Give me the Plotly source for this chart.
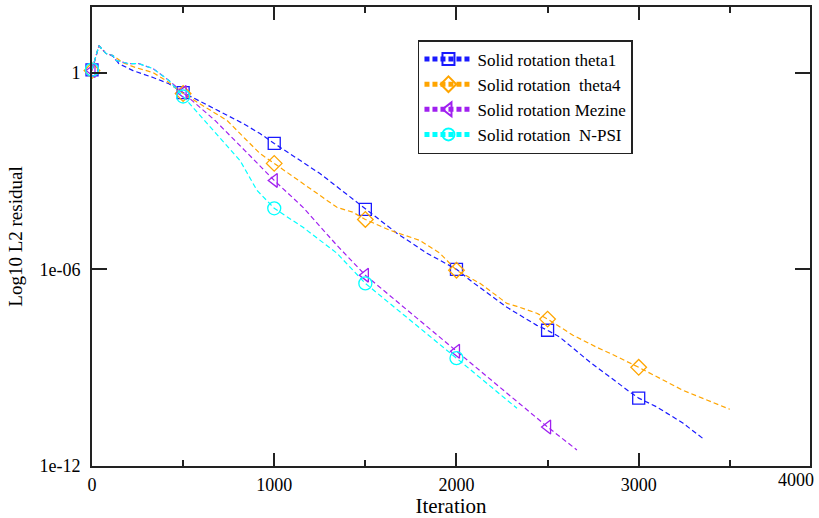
import plotly.graph_objects as go

# ---- data (iteration, log10 of L2 residual) ----
series_names = ["Solid rotation theta1", "Solid rotation  theta4",
                "Solid rotation Mezine", "Solid rotation  N-PSI"]

theta1_iter = [0, 38, 77, 115, 148, 225, 335, 422, 500, 664, 828, 922, 1000, 1251, 1500,
               1673, 1838, 2000, 2090, 2277, 2441, 2500, 2567, 2732, 2951, 3000, 3100, 3242, 3357]
theta1_log = [0.08, 0.82, 0.58, 0.50, 0.27, 0.06, -0.15, -0.34, -0.61, -1.07, -1.55, -1.86, -2.16,
              -3.08, -4.17, -4.90, -5.51, -6.00, -6.40, -7.16, -7.71, -7.86, -8.07, -8.83, -9.74,
              -9.93, -10.20, -10.69, -11.18]
theta1_mark_iter = [0, 500, 1000, 1500, 2000, 2500, 3000]
theta1_mark_log = [0.08, -0.61, -2.16, -4.17, -6.00, -7.86, -9.93]

theta4_iter = [0, 38, 77, 115, 170, 241, 335, 422, 500, 620, 741, 839, 922, 1000, 1158, 1344, 1432,
               1500, 1635, 1799, 1909, 2000, 2129, 2277, 2332, 2441, 2500, 2639, 2770, 2842, 3000,
               3242, 3500]
theta4_log = [0.06, 0.82, 0.58, 0.52, 0.30, 0.15, 0.00, -0.30, -0.64, -1.04, -1.46, -2.01, -2.47,
              -2.77, -3.38, -4.11, -4.26, -4.48, -4.81, -5.12, -5.51, -6.03, -6.43, -7.04, -7.13,
              -7.34, -7.52, -8.01, -8.38, -8.56, -8.99, -9.69, -10.27]
theta4_mark_iter = [0, 500, 1000, 1500, 2000, 2500, 3000]
theta4_mark_log = [0.06, -0.64, -2.77, -4.48, -6.03, -7.52, -8.99]

mezine_iter = [0, 38, 77, 115, 132, 203, 258, 335, 422, 500, 675, 839, 1000, 1158, 1344, 1500,
               2000, 2500, 2661]
mezine_log = [0.06, 0.82, 0.58, 0.52, 0.37, 0.27, 0.27, 0.12, -0.24, -0.61, -1.46, -2.38, -3.29,
              -4.11, -5.27, -6.18, -8.50, -10.81, -11.51]
mezine_mark_iter = [0, 500, 1000, 1500, 2000, 2500]
mezine_mark_log = [0.06, -0.61, -3.29, -6.18, -8.50, -10.81]

npsi_iter = [0, 38, 77, 115, 132, 203, 258, 335, 422, 500, 620, 812, 850, 905, 1000, 1158, 1344,
             1500, 2000, 2332]
npsi_log = [0.09, 0.82, 0.58, 0.52, 0.37, 0.27, 0.27, 0.12, -0.24, -0.73, -1.46, -2.68, -3.05,
            -3.59, -4.14, -4.72, -5.51, -6.43, -8.71, -10.24]
npsi_mark_iter = [0, 500, 1000, 1500, 2000]
npsi_mark_log = [0.09, -0.73, -4.14, -6.43, -8.71]

y_tick_vals = [0, -6, -12]
y_tick_text = ["1", "1e-06", "1e-12"]
x_tick_extra = "4000"

# ---- styling ----
FONT = "Liberation Serif"
colors = ["#1a1aff", "#ffa500", "#a020f0", "#00ffff"]
symbols = ["square-open", "diamond-open", "triangle-left-open", "circle-open"]
msizes = [12, 12, 12, 13]
DASH = "5px,3px"

lines = [(theta1_iter, theta1_log), (theta4_iter, theta4_log),
         (mezine_iter, mezine_log), (npsi_iter, npsi_log)]
marks = [(theta1_mark_iter, theta1_mark_log), (theta4_mark_iter, theta4_mark_log),
         (mezine_mark_iter, mezine_mark_log), (npsi_mark_iter, npsi_mark_log)]

fig = go.Figure()
for i in range(4):
    fig.add_trace(go.Scatter(
        x=lines[i][0], y=lines[i][1], mode="lines",
        line=dict(color=colors[i], width=1.2, dash=DASH),
        showlegend=False, hoverinfo="skip"))
    fig.add_trace(go.Scatter(
        x=marks[i][0], y=marks[i][1], mode="markers", cliponaxis=False,
        marker=dict(symbol=symbols[i], size=msizes[i], color=colors[i],
                    line=dict(color=colors[i], width=1.3)),
        showlegend=False))
for i in range(4):
    fig.add_trace(go.Scatter(
        x=[None], y=[None], mode="lines+markers", name=series_names[i],
        line=dict(color=colors[i], width=1.2, dash=DASH),
        marker=dict(symbol=symbols[i], size=msizes[i], color=colors[i],
                    line=dict(color=colors[i], width=1.3))))

axis_common = dict(showgrid=False, zeroline=False, showline=True, linewidth=2,
                   linecolor="#222", ticks="inside", tickcolor="#222", tickwidth=1.5,
                   mirror="ticks", automargin=False,
                   tickfont=dict(family=FONT, size=18, color="black"))

fig.update_layout(
    width=819, height=518,
    margin=dict(l=92, r=9, t=7, b=52),
    paper_bgcolor="white", plot_bgcolor="white",
    font=dict(family=FONT, color="black"),
    xaxis=dict(range=[0, 3940], tickmode="linear", tick0=0, dtick=1000, ticklen=13,
               ticklabelstandoff=1,
               minor=dict(dtick=500, ticklen=6, ticks="inside", tickcolor="#222", tickwidth=1.5),
               title=dict(text="Iteration", font=dict(family=FONT, size=21), standoff=3),
               **axis_common),
    yaxis=dict(range=[-12, 2], tickmode="array", tickvals=y_tick_vals, ticktext=y_tick_text,
               ticklen=15, ticklabelstandoff=6,
               title=dict(text="Log10 L2 residual", font=dict(family=FONT, size=19), standoff=12),
               **axis_common),
    legend=dict(x=0.454, y=0.928, xanchor="left", yanchor="top",
                bgcolor="white", bordercolor="#222", borderwidth=1.5,
                font=dict(family=FONT, size=17, color="black"),
                itemsizing="constant", itemwidth=48, tracegroupgap=0),
    annotations=[dict(text=x_tick_extra, xref="paper", yref="paper", x=0.98, y=0,
                      xanchor="center", yanchor="top", yshift=-2, showarrow=False,
                      font=dict(family=FONT, size=18, color="black"))],
)

fig.write_html("out.html", config={"displayModeBar": False},
               post_script="document.body.style.margin='0';")
